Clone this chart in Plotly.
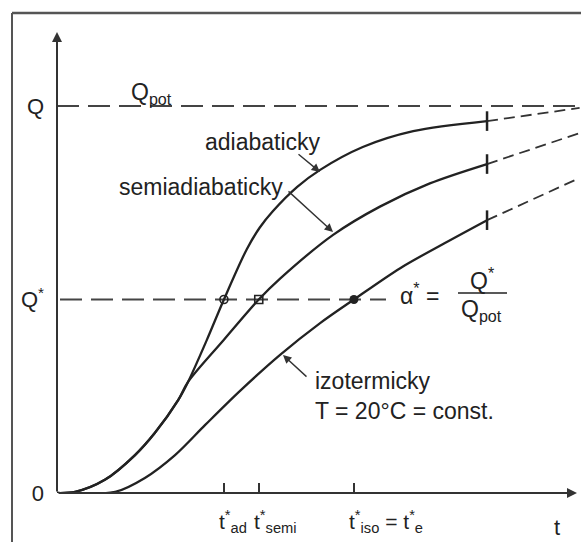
import plotly.graph_objects as go

# ---------------- data (t in arbitrary units, Q normalised to Q_pot = 1) ----------------
Q_pot = 1.0
Q_star = 0.5
t_ad = 3.21
t_semi = 3.88
t_iso = 5.71

adiab_t = [0, 0.35, 0.92, 1.50, 1.88, 2.33, 2.52, 2.88, 3.21, 3.65, 3.90, 4.15, 4.62, 5.06, 5.88, 6.85, 8.27]
adiab_q = [0, 0.003, 0.034, 0.098, 0.155, 0.240, 0.287, 0.395, 0.500, 0.630, 0.686, 0.728, 0.791, 0.835, 0.894, 0.935, 0.961]

semi_t = [0, 0.35, 0.92, 1.50, 1.88, 2.33, 2.52, 3.21, 3.88, 4.29, 5.31, 6.21, 7.17, 8.27]
semi_q = [0, 0.003, 0.034, 0.098, 0.155, 0.240, 0.287, 0.396, 0.500, 0.554, 0.667, 0.740, 0.800, 0.850]

izo_t = [0, 1.12, 1.69, 2.27, 2.85, 3.52, 4.29, 5.06, 5.71, 6.60, 7.46, 8.27]
izo_q = [0, 0.003, 0.039, 0.098, 0.176, 0.264, 0.357, 0.439, 0.500, 0.581, 0.646, 0.705]

# extrapolated (dashed) continuation of each curve
ext_t = [8.27, 10.05]
adiab_ext_q = [0.961, 0.995]
semi_ext_q = [0.850, 0.930]
izo_ext_q = [0.705, 0.814]

tick_vals = [t_ad, t_semi, t_iso]
tick_texts = ["t<sup>*</sup><sub>ad</sub>", "t<sup>*</sup><sub>semi</sub>",
              "t<sup>*</sup><sub>iso</sub> = t<sup>*</sup><sub>e</sub>"]

# ---------------- layout helpers (pixel -> axis coords for text placement) ----------------
X0, Y0, SX, SY = 57, 493, 52.0, 387.0
PLOT_H = 493.0
def px(x):
    return (x - X0) / SX
def py(y):
    return (Y0 - y) / SY
def ppy(y):  # pixel -> paper y
    return (Y0 - y) / PLOT_H

FONT = "Liberation Sans, Arial, sans-serif"
INK = "#222222"

fig = go.Figure()

# reference dashed levels
fig.add_trace(go.Scatter(x=[0, px(581)], y=[Q_pot, Q_pot], mode="lines",
                         line=dict(color="#444", width=2, dash="22px,9px")))
fig.add_trace(go.Scatter(x=[px(60), px(386)], y=[Q_star, Q_star], mode="lines",
                         line=dict(color="#444", width=2, dash="22px,9px")))

# curves
for tt, qq in [(adiab_t, adiab_q), (semi_t, semi_q), (izo_t, izo_q)]:
    fig.add_trace(go.Scatter(x=tt, y=qq, mode="lines",
                             line=dict(color=INK, width=2.3, shape="spline", smoothing=0.9)))

# dashed extensions
for qq in [adiab_ext_q, semi_ext_q, izo_ext_q]:
    fig.add_trace(go.Scatter(x=ext_t, y=qq, mode="lines",
                             line=dict(color="#333", width=1.8, dash="11px,6px")))

# end marks of measured curves
fig.add_trace(go.Scatter(x=[adiab_t[-1], semi_t[-1], izo_t[-1]],
                         y=[adiab_q[-1], semi_q[-1], izo_q[-1]], mode="markers",
                         marker=dict(symbol="line-ns", size=14, color=INK,
                                     line=dict(color=INK, width=2.5))))

# Q* crossing points
fig.add_trace(go.Scatter(x=[t_ad], y=[Q_star], mode="markers",
                         marker=dict(symbol="circle-open", size=8, color=INK,
                                     line=dict(color=INK, width=1.6))))
fig.add_trace(go.Scatter(x=[t_semi], y=[Q_star], mode="markers",
                         marker=dict(symbol="square-open", size=8, color=INK,
                                     line=dict(color=INK, width=1.6))))
fig.add_trace(go.Scatter(x=[t_iso], y=[Q_star], mode="markers",
                         marker=dict(symbol="circle", size=9, color=INK)))

ann = []
# axes with arrow heads
ann.append(dict(x=0, y=py(32), ax=0, ay=0, xref="x", yref="y", axref="x", ayref="y",
                text="", showarrow=True, arrowhead=2, arrowsize=1, arrowwidth=2, arrowcolor="#333"))
ann.append(dict(x=px(577), y=0, ax=0, ay=0, xref="x", yref="y", axref="x", ayref="y",
                text="", showarrow=True, arrowhead=2, arrowsize=1, arrowwidth=2, arrowcolor="#333"))

# pointer arrows
for (tx, ty, hx, hy) in [(297, 153, 320, 172), (287, 190, 333, 232), (308, 378, 283, 355)]:
    ann.append(dict(x=px(hx), y=py(hy), ax=px(tx), ay=py(ty), xref="x", yref="y",
                    axref="x", ayref="y", text="", showarrow=True, arrowhead=2,
                    arrowsize=1.2, arrowwidth=1.4, arrowcolor="#333"))

def label(x, y, text, size=23, xanchor="left", yanchor="middle", align="left"):
    ann.append(dict(x=px(x), y=py(y), xref="x", yref="y", text=text, showarrow=False,
                    xanchor=xanchor, yanchor=yanchor, align=align,
                    font=dict(family=FONT, size=size, color=INK)))

label(203, 142, "adiabaticky")
label(117, 187, "semiadiabaticky")
label(313, 396, "izotermicky<br>T = 20°C = const.")
label(129, 93, "Q<sub>pot</sub>", size=23)
label(398, 294, "α<sup>*</sup> =", size=23)
label(482, 279, "Q<sup>*</sup>", size=23, xanchor="center")
label(481, 310, "Q<sub>pot</sub>", size=23, xanchor="center")

# axis title "t" and tick labels below the x axis (t sits on the tick, subscript trails)
ann.append(dict(x=px(557), y=ppy(527), xref="x", yref="paper", text="t", showarrow=False,
                xanchor="center", yanchor="middle", font=dict(family=FONT, size=22, color=INK)))
for v, s in zip(tick_vals, tick_texts):
    ann.append(dict(x=v, y=ppy(521), xref="x", yref="paper", text=s, showarrow=False,
                    xanchor="left", xshift=-7, yanchor="middle",
                    font=dict(family=FONT, size=21, color=INK)))

shapes = [
    # fraction bar
    dict(type="line", xref="x", yref="y", x0=px(458), x1=px(507), y0=py(293), y1=py(293),
         line=dict(color=INK, width=1.5)),
    # picture frame (left and top)
    dict(type="line", xref="paper", yref="paper", x0=(12 - X0) / 524, x1=(12 - X0) / 524,
         y0=ppy(13), y1=ppy(545), line=dict(color="#555", width=2)),
    dict(type="line", xref="paper", yref="paper", x0=(12 - X0) / 524, x1=1.01,
         y0=ppy(13), y1=ppy(13), line=dict(color="#555", width=2.5)),
]

fig.update_layout(
    width=581, height=542,
    margin=dict(l=X0, r=0, t=0, b=542 - Y0),
    paper_bgcolor="white", plot_bgcolor="white",
    showlegend=False,
    annotations=ann, shapes=shapes,
    xaxis=dict(range=[0, px(581)], showgrid=False, zeroline=False, showline=False,
               tickvals=tick_vals, ticks="inside", ticklen=10, tickwidth=2, tickcolor="#333",
               showticklabels=False, fixedrange=True),
    yaxis=dict(range=[0, py(0)], showgrid=False, zeroline=False, showline=False,
               tickvals=[0, Q_star, Q_pot], ticktext=["0", "Q<sup>*</sup>", "Q"],
               ticks="", ticklabelstandoff=12,
               tickfont=dict(family=FONT, size=22, color=INK), fixedrange=True),
)

fig.write_html("out.html")
